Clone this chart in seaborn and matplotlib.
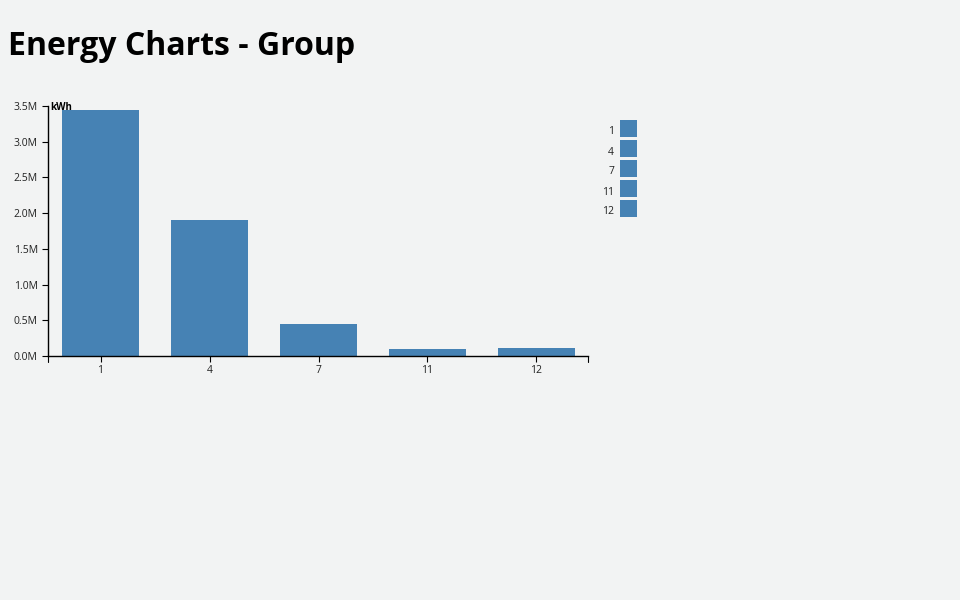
import matplotlib
matplotlib.use("Agg")
import matplotlib.pyplot as plt
import seaborn as sns
import pandas as pd
from matplotlib.patches import Rectangle
from matplotlib.ticker import FuncFormatter, MultipleLocator

categories = ["1", "4", "7", "11", "12"]
values = [3445000, 1905000, 450000, 98000, 112000]
title = "Energy Charts - Group"
unit = "kWh"

BG = "#f2f3f3"
BAR = "#4682b4"

sns.set_theme(style="white")
plt.rcParams['font.family'] = ['Open Sans', 'DejaVu Sans']

df = pd.DataFrame({"cat": categories, "val": values})

fig = plt.figure(figsize=(9.6, 6), dpi=100, facecolor=BG)
ax = fig.add_axes([48/960, 1-356/600, 540/960, 250/600])
ax.set_facecolor(BG)

sns.barplot(data=df, x="cat", y="val", order=categories, color=BAR,
            saturation=1, width=0.706, linewidth=0, edgecolor="none", ax=ax)

ax.set_xlim(-0.4817, 4.4725)
ax.set_ylim(0, 3500000)
ax.yaxis.set_major_locator(MultipleLocator(500000))
ax.yaxis.set_major_formatter(FuncFormatter(lambda v, p: f"{v/1e6:.1f}M"))
ax.set_xlabel("")
ax.set_ylabel("")
for s in ["top", "right"]:
    ax.spines[s].set_visible(False)
for s in ["left", "bottom"]:
    ax.spines[s].set_color("black")
    ax.spines[s].set_linewidth(1)
ax.tick_params(axis="both", direction="out", length=4.3, width=0.8, color="black",
               labelsize=7.5, labelcolor="#222222", left=True, bottom=True)
ax.tick_params(axis="x", pad=2.5)
ax.tick_params(axis="y", pad=3)
# outer end ticks of x axis
for xe in ax.get_xlim():
    ax.plot([xe, xe], [0, -0.024], transform=ax.get_xaxis_transform(),
            color="black", lw=0.8, clip_on=False)

fig.text(50/960, 1-107.5/600, unit, fontsize=7, fontweight="bold",
         ha="left", va="center", color="black")

fig.text(8/960, 1-55/600, title, fontsize=23, fontweight="bold",
         ha="left", va="baseline", color="black")

# legend
for i, c in enumerate(categories):
    y0 = 120 + 20*i
    fig.add_artist(Rectangle((620/960, 1-(y0+17)/600), 17/960, 17/600,
                             transform=fig.transFigure, facecolor=BAR,
                             edgecolor="none"))
    fig.text(614/960, 1-(y0+12)/600, c, fontsize=7.5, ha="right",
             va="center", color="#222222")

fig.savefig("out.png", dpi=100, facecolor=BG)
